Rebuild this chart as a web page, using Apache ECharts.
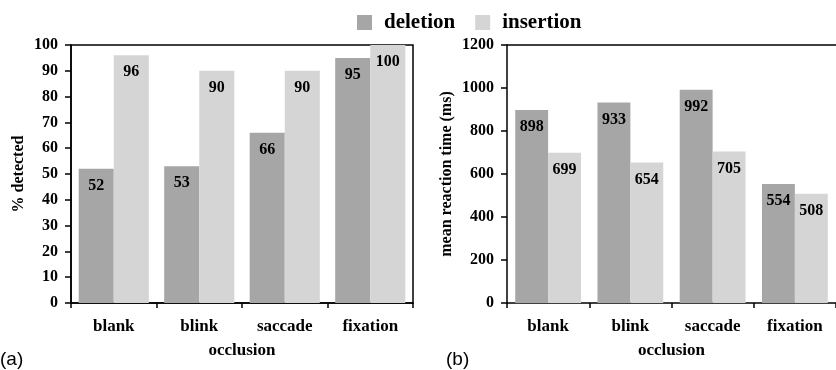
<!DOCTYPE html>
<html><head><meta charset="utf-8">
<script src="https://cdn.jsdelivr.net/npm/echarts@6/dist/echarts.min.js"></script>
<style>html,body{margin:0;padding:0;background:#fff}#c{width:836px;height:370px}</style>
</head><body><div id="c"></div>
<script>
const categories = ['blank', 'blink', 'saccade', 'fixation'];
const seriesNames = ['deletion', 'insertion'];
const detectedDeletion = [52, 53, 66, 95];
const detectedInsertion = [96, 90, 90, 100];
const rtDeletion = [898, 933, 992, 554];
const rtInsertion = [699, 654, 705, 508];
const colors = ['#a6a6a6', '#d5d5d5'];

const serif = 'Liberation Serif';
const axisLine = {show: true, lineStyle: {color: '#000', width: 1.5}};
function xAx(gi) {
  return {
    type: 'category', gridIndex: gi, data: categories,
    axisLine: axisLine,
    axisTick: {show: true, length: 5, lineStyle: {color: '#000', width: 1.5}},
    axisLabel: {color: '#000', fontFamily: serif, fontWeight: 'bold', fontSize: 17, margin: 15},
    name: 'occlusion', nameLocation: 'middle', nameGap: 39,
    nameTextStyle: {color: '#000', fontFamily: serif, fontWeight: 'bold', fontSize: 17}
  };
}
function yAx(gi, max, interval, name, gap) {
  return {
    type: 'value', gridIndex: gi, min: 0, max: max, interval: interval,
    splitLine: {show: false},
    axisLine: axisLine,
    axisTick: {show: true, length: 6, lineStyle: {color: '#000', width: 1.5}},
    axisLabel: {color: '#000', fontFamily: serif, fontWeight: 'bold', fontSize: 16, margin: 13,
                formatter: function (v) { return String(v); }},
    name: name, nameLocation: 'middle', nameRotate: 90, nameGap: gap,
    nameTextStyle: {color: '#000', fontFamily: serif, fontWeight: 'bold', fontSize: 16}
  };
}
function bar(name, data, gi, ci, cat) {
  return {
    name: name, type: 'bar', xAxisIndex: gi, yAxisIndex: gi, data: data,
    barGap: '0%', barCategoryGap: cat,
    itemStyle: {color: colors[ci]},
    label: {show: true, position: 'insideTop', distance: 9, color: '#000',
            fontFamily: serif, fontWeight: 'bold', fontSize: 16}
  };
}
const topLine = {
  type: 'category', gridIndex: 1, position: 'top', data: categories,
  axisLine: axisLine, axisTick: {show: false}, axisLabel: {show: false}
};
const chart = echarts.init(document.getElementById('c'), null, {renderer: 'canvas'});
chart.setOption({
  animation: false,
  backgroundColor: '#fff',
  legend: {
    data: seriesNames, left: 352, top: 7, itemWidth: 15, itemHeight: 15, itemGap: 20,
    icon: 'rect',
    textStyle: {color: '#000', fontFamily: serif, fontWeight: 'bold', fontSize: 21, padding: [0, 0, 0, 7]}
  },
  grid: [
    {left: 71, top: 45, width: 342, height: 258, show: true, borderColor: '#000', borderWidth: 1.5},
    {left: 507, top: 45, width: 332, height: 258}
  ],
  xAxis: [xAx(0), xAx(1), topLine],
  yAxis: [yAx(0, 100, 10, '% detected', 44), yAx(1, 1200, 200, 'mean reaction time (ms)', 52)],
  series: [
    bar('deletion', detectedDeletion, 0, 0, '18%'),
    bar('insertion', detectedInsertion, 0, 1, '18%'),
    bar('deletion', rtDeletion, 1, 0, '20%'),
    bar('insertion', rtInsertion, 1, 1, '20%')
  ],
  graphic: [
    {type: 'text', left: 0, top: 350, style: {text: '(a)', fontFamily: 'Liberation Sans', fontSize: 19, fill: '#000'}},
    {type: 'text', left: 446, top: 350, style: {text: '(b)', fontFamily: 'Liberation Sans', fontSize: 19, fill: '#000'}}
  ]
});
</script></body></html>
